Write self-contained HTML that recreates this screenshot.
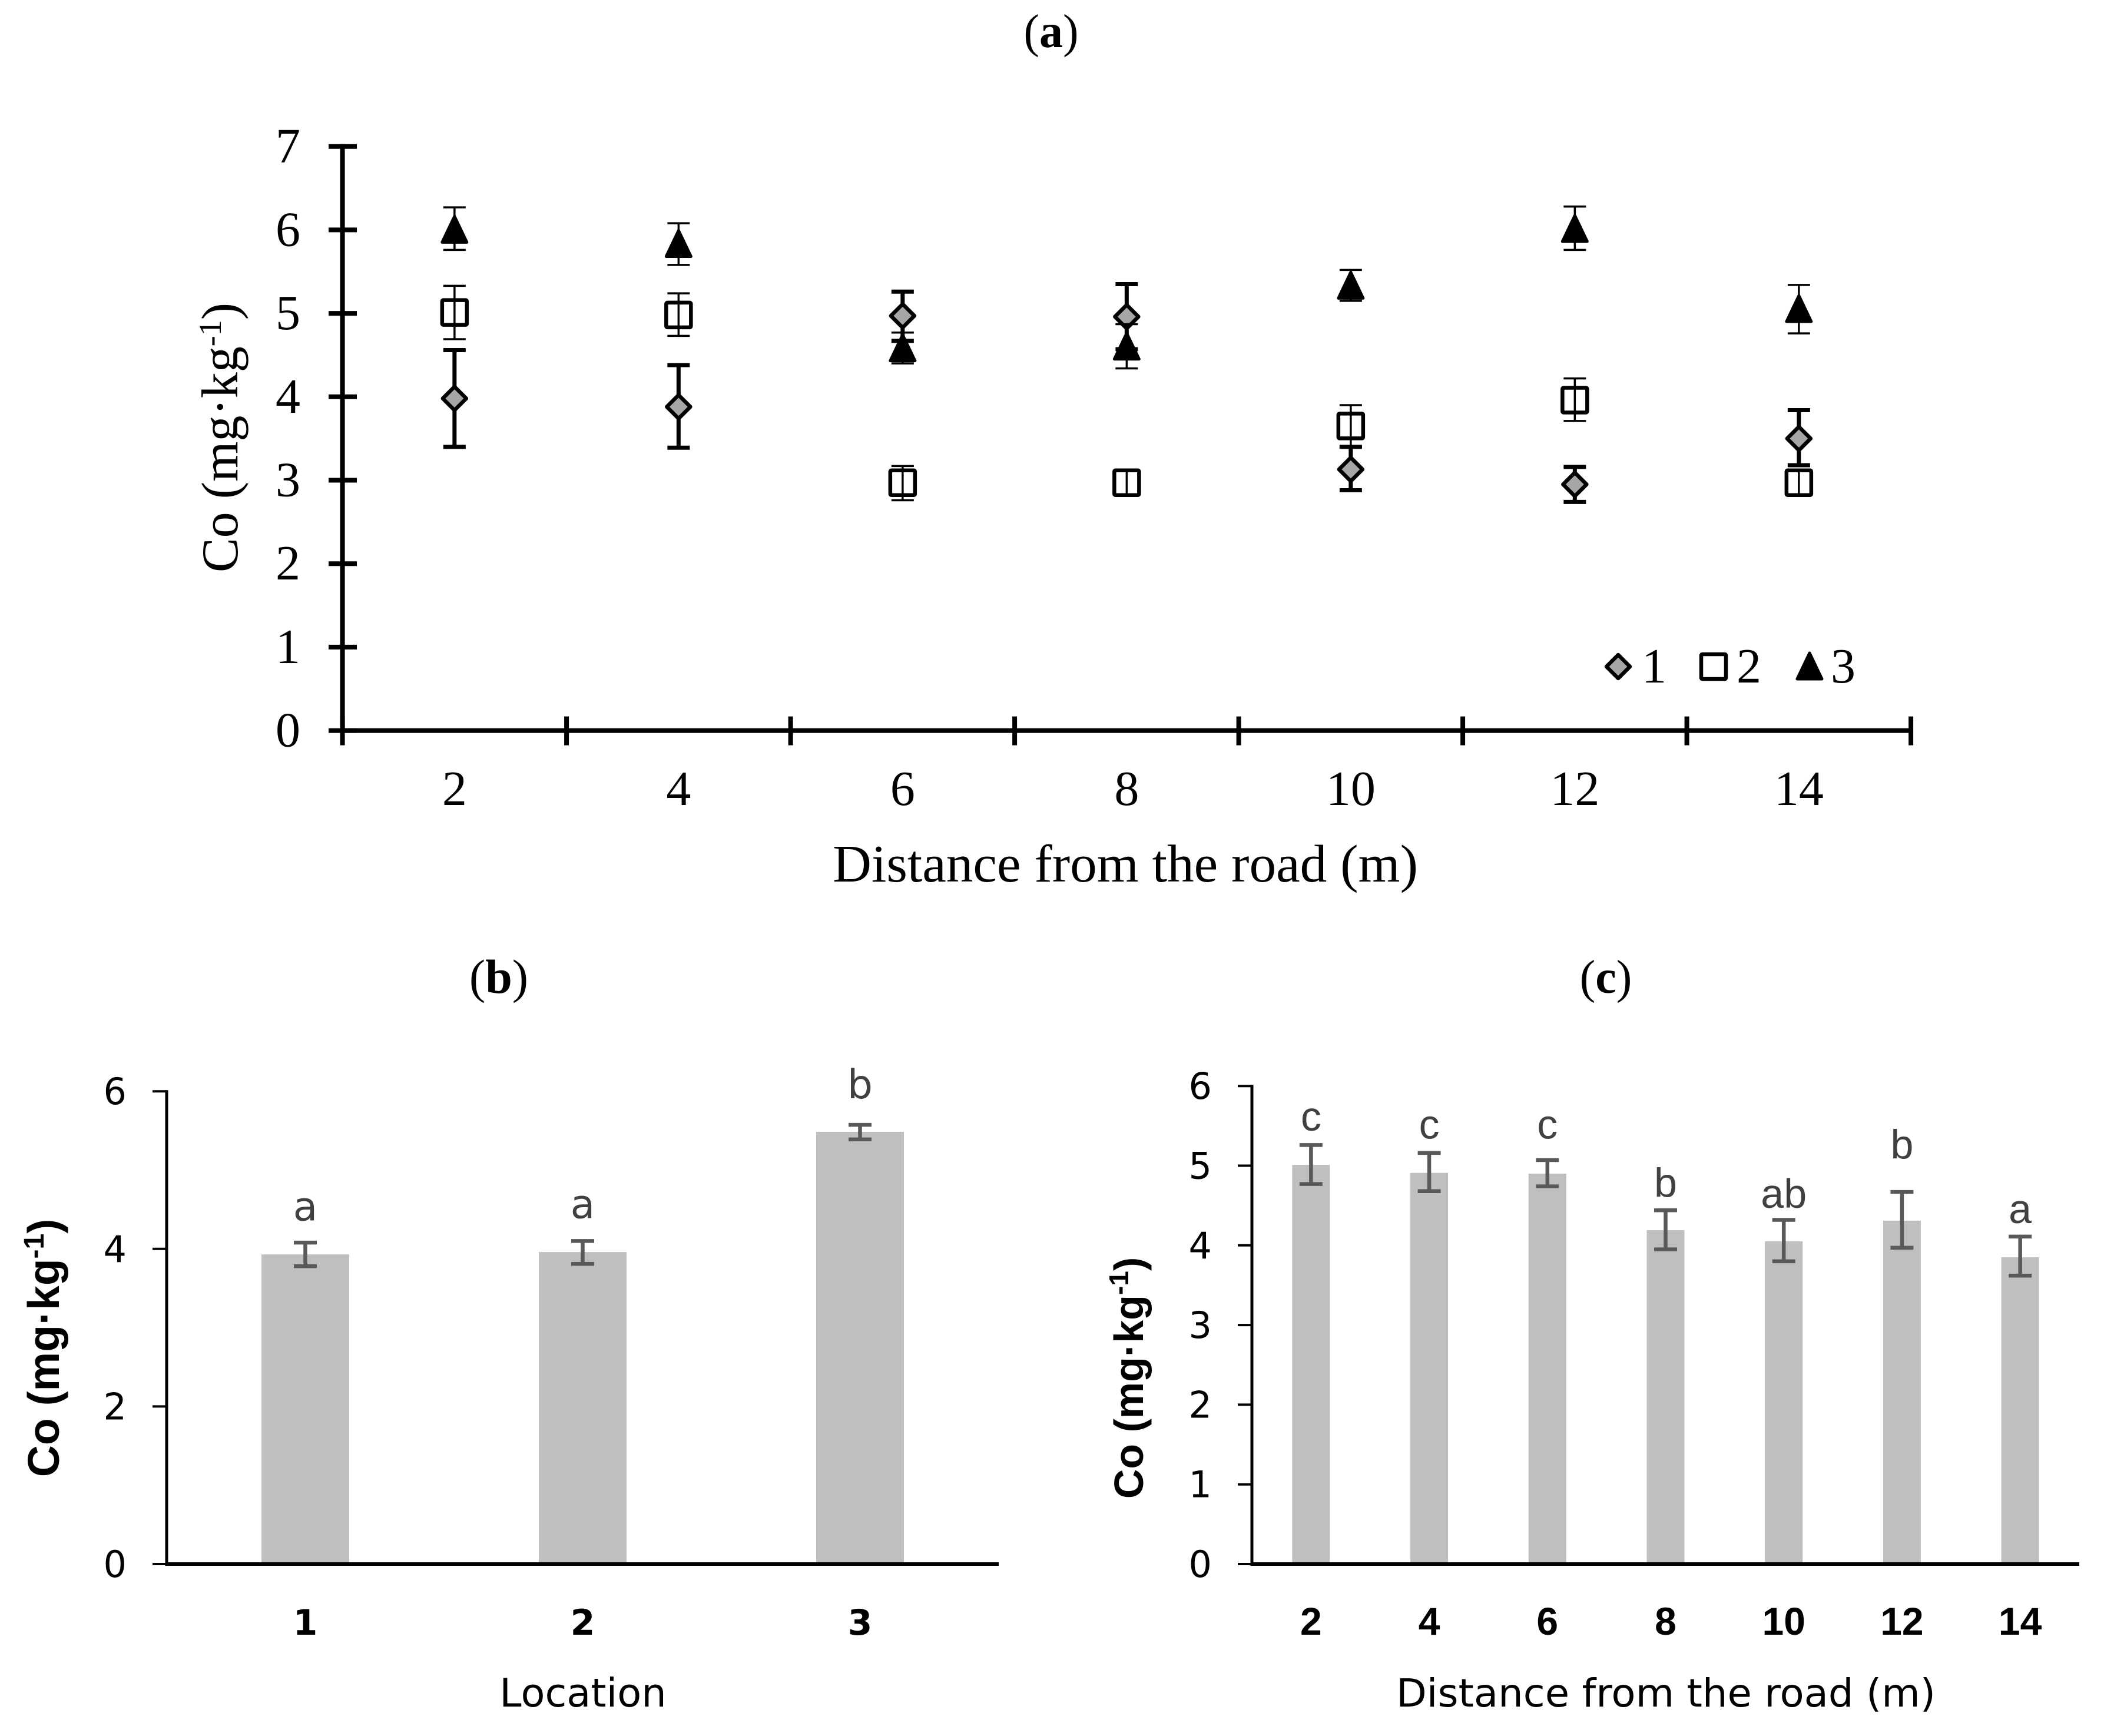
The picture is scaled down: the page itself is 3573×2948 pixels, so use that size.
<!DOCTYPE html>
<html lang="en">
<head>
<meta charset="utf-8">
<title>Co concentration charts</title>
<style>
html,body{margin:0;padding:0;background:#fff;width:3573px;height:2948px;overflow:hidden}
svg{display:block}
.serif{font-family:"Liberation Serif",serif}
.sans{font-family:"Liberation Sans",sans-serif}
.dejavu{font-family:"DejaVu Sans",sans-serif}
</style>
</head>
<body>
<svg id="figure" xmlns="http://www.w3.org/2000/svg" width="3573" height="2948" viewBox="0 0 3573 2948">
  <rect x="0" y="0" width="3573" height="2948" fill="#fff"/>
  <text class="serif" x="1785" y="80" font-size="80" text-anchor="middle">(<tspan font-weight="bold">a</tspan>)</text>
  <text class="serif" x="847" y="1686" font-size="82" text-anchor="middle">(<tspan font-weight="bold">b</tspan>)</text>
  <text class="serif" x="2727" y="1686" font-size="80" text-anchor="middle">(<tspan font-weight="bold">c</tspan>)</text>

  <text class="serif" transform="translate(403,743) rotate(-90)" font-size="88" text-anchor="middle">Co (mg·kg<tspan dy="-28" font-size="54">-1</tspan><tspan dy="28">)</tspan></text>
  <text class="serif" x="1414" y="1497" font-size="90" textLength="994" lengthAdjust="spacingAndGlyphs">Distance from the road (m)</text>

  <text class="sans" font-weight="bold" transform="translate(100,2289) rotate(-90)" font-size="75" text-anchor="middle">Co (mg·kg<tspan dy="-26" font-size="48">-1</tspan><tspan dy="26">)</tspan></text>
  <text class="dejavu" x="990" y="2898" font-size="67" text-anchor="middle">Location</text>

  <text class="sans" font-weight="bold" transform="translate(1941,2340) rotate(-90)" font-size="70" text-anchor="middle">Co (mg·kg<tspan dy="-25" font-size="46">-1</tspan><tspan dy="25">)</tspan></text>
  <text class="dejavu" x="2371" y="2898" font-size="66" textLength="916" lengthAdjust="spacingAndGlyphs">Distance from the road (m)</text>

  <g id="panel-a"></g>
  <g id="panel-b"></g>
  <g id="panel-c"></g>
</svg>
<script>
// Panel (a) data
const distanceLabels = ['2', '4', '6', '8', '10', '12', '14'];
const panelATicks = [0, 1, 2, 3, 4, 5, 6, 7];
const series1Mean = [3.98, 3.88, 4.97, 4.96, 3.13, 2.95, 3.50];
const series1Upper = [4.56, 4.38, 5.26, 5.35, 3.40, 3.16, 3.84];
const series1Lower = [3.40, 3.39, 4.67, 4.57, 2.88, 2.74, 3.18];
const series2Mean = [5.01, 4.98, 2.97, 2.97, 3.65, 3.96, 2.97];
const series2Upper = [5.33, 5.24, 3.17, 3.12, 3.90, 4.22, 3.12];
const series2Lower = [4.69, 4.73, 2.76, 2.82, 3.40, 3.71, 2.82];
const series3Mean = [6.00, 5.83, 4.58, 4.60, 5.33, 6.01, 5.05];
const series3Upper = [6.27, 6.08, 4.77, 4.87, 5.52, 6.28, 5.34];
const series3Lower = [5.76, 5.58, 4.40, 4.34, 5.15, 5.76, 4.76];

// Panel (b) data
const locationLabels = ['1', '2', '3'];
const panelBTicks = [0, 2, 4, 6];
const locationMean = [3.93, 3.96, 5.486];
const locationUpper = [4.08, 4.10, 5.575];
const locationLower = [3.78, 3.81, 5.39];
const locationLetters = ['a', 'a', 'b'];
const locationLetterLevel = [4.36, 4.39, 5.91];

// Panel (c) data
const panelCTicks = [0, 1, 2, 3, 4, 5, 6];
const distanceMean = [5.01, 4.91, 4.90, 4.19, 4.05, 4.31, 3.85];
const distanceUpper = [5.26, 5.16, 5.07, 4.44, 4.32, 4.67, 4.11];
const distanceLower = [4.77, 4.68, 4.74, 3.95, 3.80, 3.97, 3.62];
const distanceLetters = ['c', 'c', 'c', 'b', 'ab', 'b', 'a'];
const distanceLetterLevel = [5.44, 5.34, 5.34, 4.61, 4.47, 5.09, 4.28];

const NS = 'http://www.w3.org/2000/svg';
function mk(parent, tag, attrs, text) {
  const el = document.createElementNS(NS, tag);
  for (const k in attrs) el.setAttribute(k, attrs[k]);
  if (text !== undefined) el.textContent = text;
  parent.appendChild(el);
  return el;
}
function line(parent, x1, y1, x2, y2, color, w) {
  return mk(parent, 'line', {x1: x1, y1: y1, x2: x2, y2: y2, stroke: color, 'stroke-width': w});
}

/* ---------- Panel A ---------- */
const gA = document.getElementById('panel-a');
const aLeft = 581.6, aStep = 380.5, aZero = 1240.6, aUnit = 141.7;
const ax = i => aLeft + aStep * (i + 0.5);
const ay = v => aZero - aUnit * v;

let el = line(gA, aLeft, ay(panelATicks[panelATicks.length - 1]) - 4, aLeft, aZero + 4, '#000', 8);


el = line(gA, aLeft, aZero, aLeft + aStep * distanceLabels.length, aZero, '#000', 8);



panelATicks.forEach(v => {
  const t = line(gA, 558, ay(v), 606, ay(v), '#000', 8);
  
  
  const l = mk(gA, 'text', {x: 510, y: ay(v) + 27, 'font-size': 84, 'text-anchor': 'end', class: 'serif'}, String(v));
  
  
});
for (let i = 0; i <= distanceLabels.length; i++) {
  const t = line(gA, aLeft + aStep * i, aZero - 24, aLeft + aStep * i, aZero + 25, '#000', 8);
  
  
}
distanceLabels.forEach((c, i) => {
  const l = mk(gA, 'text', {x: ax(i), y: 1367, 'font-size': 84, 'text-anchor': 'middle', class: 'serif'}, c);
  
  
});

function errBar(parent, x, yTop, yBottom, w, capW, color) {
  const g = mk(parent, 'g', {});
  line(g, x, yTop, x, yBottom, color, w);
  line(g, x - capW / 2, yTop, x + capW / 2, yTop, color, w);
  line(g, x - capW / 2, yBottom, x + capW / 2, yBottom, color, w);
  return g;
}
function diamond(parent, x, y) {
  return mk(parent, 'polygon', {points: [x, y - 20, x + 20, y, x, y + 20, x - 20, y].join(' '), fill: '#a6a6a6', stroke: '#000', 'stroke-width': 6.5, 'stroke-linejoin': 'round'});
}
function square(parent, x, y) {
  return mk(parent, 'rect', {x: x - 21, y: y - 21, width: 42, height: 42, rx: 2, fill: 'none', stroke: '#000', 'stroke-width': 6.5});
}
function triangle(parent, x, y) {
  return mk(parent, 'polygon', {points: [x, y - 23, x + 21, y + 21, x - 21, y + 21].join(' '), fill: '#000', stroke: '#000', 'stroke-width': 5, 'stroke-linejoin': 'round'});
}

distanceLabels.forEach((c, i) => {
  const e1 = errBar(gA, ax(i), ay(series1Upper[i]), ay(series1Lower[i]), 7, 38, '#000');
  
  
  const m1 = diamond(gA, ax(i), ay(series1Mean[i]));
  
  
});
distanceLabels.forEach((c, i) => {
  const e2 = errBar(gA, ax(i), ay(series2Upper[i]), ay(series2Lower[i]), 3.5, 38, '#000');
  
  
  const m2 = square(gA, ax(i), ay(series2Mean[i]));
  
  
});
distanceLabels.forEach((c, i) => {
  const e3 = errBar(gA, ax(i), ay(series3Upper[i]), ay(series3Lower[i]), 3.5, 38, '#000');
  
  
  const m3 = triangle(gA, ax(i), ay(series3Mean[i]));
  
  
});

// Legend
const legend = mk(gA, 'g', {});


const lk1 = diamond(legend, 2748, 1132);


const lt1 = mk(legend, 'text', {x: 2788, y: 1159, 'font-size': 84, class: 'serif'}, '1');


const lk2 = square(legend, 2910, 1132);


const lt2 = mk(legend, 'text', {x: 2949, y: 1159, 'font-size': 84, class: 'serif'}, '2');


const lk3 = triangle(legend, 3073, 1132);


const lt3 = mk(legend, 'text', {x: 3109, y: 1159, 'font-size': 84, class: 'serif'}, '3');



/* ---------- Bar panels ---------- */
function barPanel(cfg) {
  const g = cfg.group;
  const n = cfg.labels.length;
  const step = (cfg.right - cfg.left) / n;
  const bx = i => cfg.left + step * (i + 0.5);
  const by = v => cfg.zero - cfg.unit * v;

  cfg.labels.forEach((c, i) => {
    const bar = mk(g, 'rect', {x: bx(i) - cfg.barW / 2, y: by(cfg.mean[i]), width: cfg.barW, height: cfg.zero - by(cfg.mean[i]), fill: '#bfbfbf'});
    
    
    const err = errBar(g, bx(i), by(cfg.upper[i]), by(cfg.lower[i]), 6.5, 39, '#595959');
    
    
    const letter = mk(g, 'text', {x: bx(i) + cfg.letterShift, y: by(cfg.level[i]), 'font-size': cfg.letterSize, 'text-anchor': 'middle', fill: '#404040', class: cfg.letterClass}, cfg.letters[i]);
    
    
    const tick = mk(g, 'text', {x: bx(i) + cfg.tickShift, y: 2776, 'font-size': cfg.xTickSize, 'font-weight': 'bold', 'text-anchor': 'middle', class: cfg.xTickClass}, c);
    
    
  });

  const yAxis = line(g, cfg.left, by(cfg.ticks[cfg.ticks.length - 1]) - 2, cfg.left, cfg.zero + 3, '#000', 5);
  
  
  const xAxis = line(g, cfg.left, cfg.zero, cfg.right, cfg.zero, '#000', 6);
  
  

  cfg.ticks.forEach(v => {
    const t = line(g, cfg.left - 24, by(v), cfg.left, by(v), '#000', 4);
    
    
    const l = mk(g, 'text', {x: cfg.left - cfg.labelGap, y: by(v) + 22, 'font-size': cfg.tickSize, 'text-anchor': 'end', class: 'dejavu'}, String(v));
    
    
  });
}

barPanel({
  group: document.getElementById('panel-b'), prefix: 'panel-b',
  left: 283, right: 1696, zero: 2656, unit: 133.8, barW: 149,
  labels: locationLabels, ticks: panelBTicks, mean: locationMean, upper: locationUpper, lower: locationLower,
  letters: locationLetters, level: locationLetterLevel, letterSize: 68, letterClass: 'dejavu', letterShift: 0,
  xTickSize: 60, xTickClass: 'dejavu', tickShift: 0, tickSize: 62, labelGap: 68
});
barPanel({
  group: document.getElementById('panel-c'), prefix: 'panel-c',
  left: 2126, right: 3531, zero: 2656, unit: 135.3, barW: 64,
  labels: distanceLabels, ticks: panelCTicks, mean: distanceMean, upper: distanceUpper, lower: distanceLower,
  letters: distanceLetters, level: distanceLetterLevel, letterSize: 70, letterClass: 'sans', letterShift: 0,
  xTickSize: 66, xTickClass: 'sans', tickShift: 0, tickSize: 62, labelGap: 68
});
</script>
</body>
</html>
